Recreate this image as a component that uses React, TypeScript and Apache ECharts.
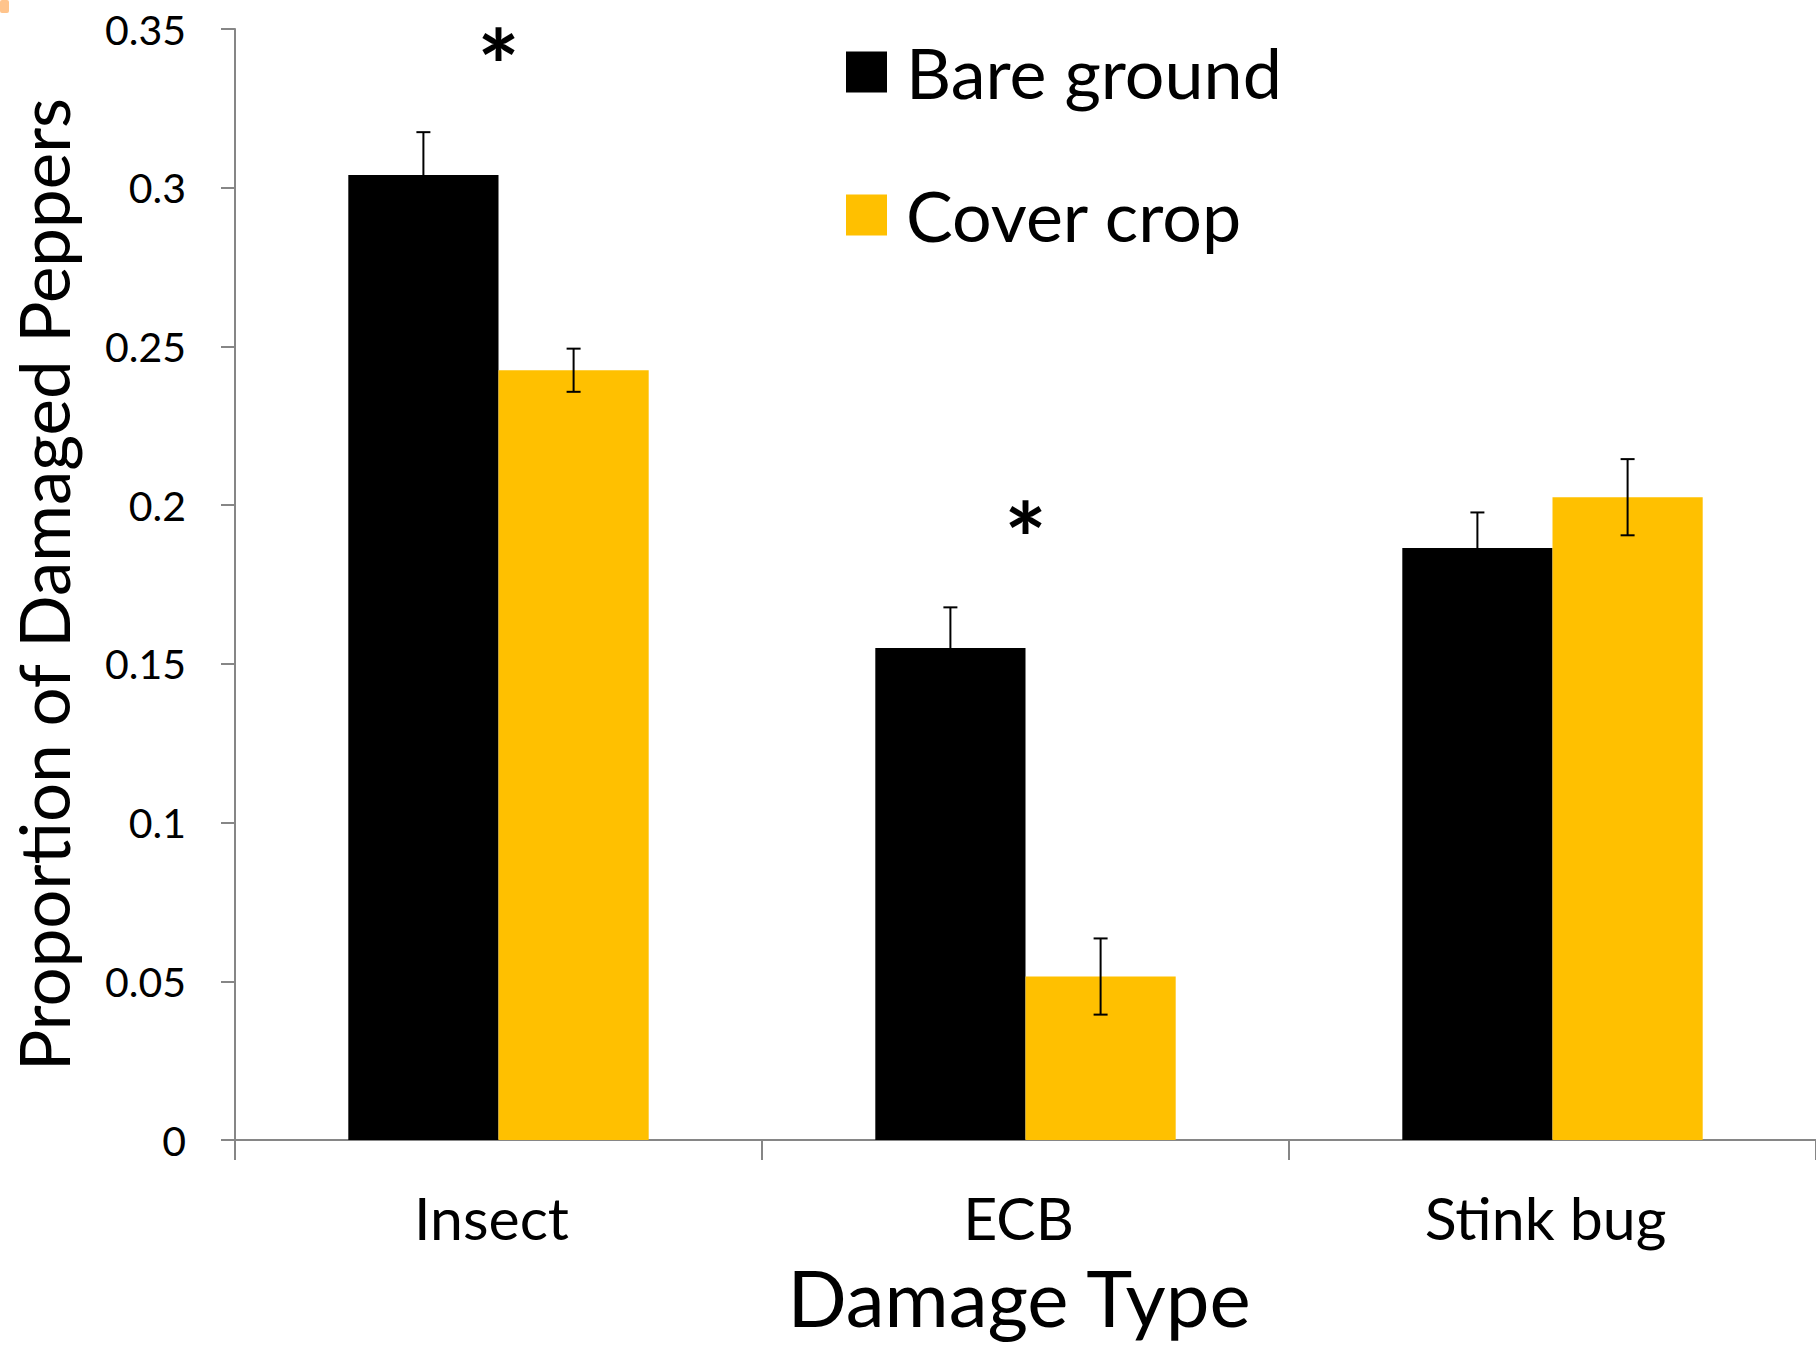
import React, { useEffect, useRef } from "react";
import * as echarts from "echarts";

const categories = ["Insect", "ECB", "Stink bug"];
const bareGround = [0.304, 0.155, 0.1865];
const bareGroundErr = [0.0135, 0.0128, 0.0112];
const coverCrop = [0.2425, 0.0515, 0.2025];
const coverCropErr = [0.0068, 0.012, 0.012];
const significant = [true, true, false];
const seriesNames = ["Bare ground", "Cover crop"];
const colors = ["#000000", "#FFC000"];

const FONT = "Lato";
const BAR_FRAC = 0.285;

export default function App() {
  const ref = useRef<HTMLDivElement>(null);
  useEffect(() => {
    if (!ref.current) return;
    const chart = echarts.init(ref.current, null, { renderer: "svg" });

    const errData: number[][] = [];
    categories.forEach((_, i) => {
      errData.push([i, bareGround[i], bareGroundErr[i], 0]);
      errData.push([i, coverCrop[i], coverCropErr[i], 1]);
    });
    const starData: number[][] = [];
    categories.forEach((_, i) => {
      if (significant[i]) {
        const top = Math.max(bareGround[i], coverCrop[i]);
        starData.push([i, top + 0.035]);
      }
    });

    const option: any = {
      animation: false,
      backgroundColor: "#ffffff",
      grid: { left: 234, right: 0, top: 29, bottom: 205, containLabel: false },
      legend: {
        orient: "vertical",
        left: 841,
        top: 32,
        data: seriesNames,
        icon: "rect",
        itemWidth: 41,
        itemHeight: 41,
        itemGap: 73,
        textStyle: {
          fontFamily: FONT,
          fontSize: 70,
          lineHeight: 70,
          color: "#000",
          padding: [0, 0, 0, 14],
        },
      },
      xAxis: {
        type: "category",
        data: categories,
        axisLine: { lineStyle: { color: "#868686", width: 2 } },
        axisTick: { show: true, length: 20, lineStyle: { color: "#868686", width: 2 } },
        axisLabel: {
          fontFamily: FONT,
          fontSize: 59,
          lineHeight: 60,
          color: "#000",
          margin: 47,
          padding: [0, 14, 0, 0],
        },
        name: "Damage Type",
        nameLocation: "middle",
        nameGap: 119,
        nameTextStyle: {
          fontFamily: FONT,
          fontSize: 78,
          lineHeight: 76,
          color: "#000",
          padding: [0, 13, 0, 0],
        },
      },
      yAxis: {
        type: "value",
        min: 0,
        max: 0.35,
        interval: 0.05,
        axisLine: { show: true, lineStyle: { color: "#868686", width: 2 } },
        axisTick: { show: true, length: 14, lineStyle: { color: "#868686", width: 2 } },
        splitLine: { show: false },
        axisLabel: { fontFamily: FONT, fontSize: 41, color: "#000", margin: 49 },
        name: "Proportion of Damaged Peppers",
        nameLocation: "middle",
        nameGap: 157,
        nameRotate: 90,
        nameTextStyle: { fontFamily: FONT, fontSize: 69, lineHeight: 70, color: "#000" },
      },
      series: [
        {
          name: seriesNames[0],
          type: "bar",
          data: bareGround,
          barWidth: BAR_FRAC * 100 + "%",
          barGap: "0%",
          itemStyle: { color: colors[0] },
        },
        {
          name: seriesNames[1],
          type: "bar",
          data: coverCrop,
          barWidth: BAR_FRAC * 100 + "%",
          barGap: "0%",
          itemStyle: { color: colors[1] },
        },
        {
          type: "custom",
          name: "err",
          data: errData,
          z: 10,
          renderItem: (params: any, api: any) => {
            const ci = api.value(0);
            const mean = api.value(1);
            const err = api.value(2);
            const s = api.value(3);
            const bandW = api.size([1, 0])[0];
            const barW = bandW * BAR_FRAC;
            const c = api.coord([ci, mean]);
            const x = c[0] + (s === 0 ? -barW / 2 : barW / 2);
            const yHi = api.coord([ci, mean + err])[1];
            const yLo = api.coord([ci, mean - err])[1];
            const cap = 7;
            const st = { stroke: "#000", lineWidth: 2 };
            return {
              type: "group",
              children: [
                { type: "line", shape: { x1: x, y1: yHi, x2: x, y2: yLo }, style: st },
                { type: "line", shape: { x1: x - cap, y1: yHi, x2: x + cap, y2: yHi }, style: st },
                { type: "line", shape: { x1: x - cap, y1: yLo, x2: x + cap, y2: yLo }, style: st },
              ],
            };
          },
        },
        {
          type: "custom",
          name: "sig",
          data: starData,
          z: 10,
          renderItem: (params: any, api: any) => {
            const p = api.coord([api.value(0), api.value(1)]);
            return {
              type: "text",
              x: p[0],
              y: p[1],
              style: {
                text: "*",
                fontFamily: FONT,
                fontWeight: "bold",
                fontSize: 100,
                lineHeight: 80,
                fill: "#000",
                align: "center",
                verticalAlign: "middle",
              },
            };
          },
        },
      ],
      graphic: [
        {
          type: "rect",
          left: 0,
          top: 0,
          shape: { width: 9, height: 13, r: 2 },
          style: { fill: "#FFC48C" },
        },
      ],
    };
    chart.setOption(option);
    return () => chart.dispose();
  }, []);

  return (
    <div
      ref={ref}
      style={{ position: "absolute", left: 0, top: 0, width: 1816, height: 1345 }}
    />
  );
}
